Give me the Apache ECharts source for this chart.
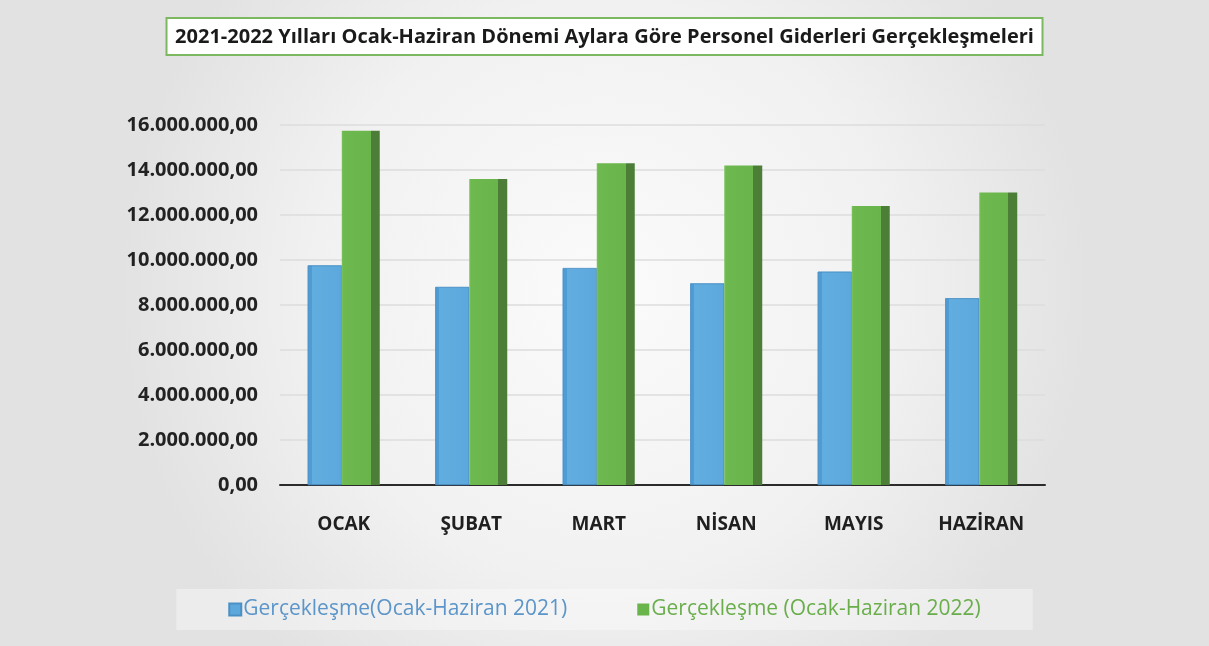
<!DOCTYPE html>
<html>
<head>
<meta charset="utf-8">
<title>Personel Giderleri</title>
<script src="https://cdn.jsdelivr.net/npm/echarts@6/dist/echarts.min.js"></script>
<style>
  html, body { margin: 0; padding: 0; }
  #chart { width: 1209px; height: 646px; }
</style>
</head>
<body>
<div id="chart"></div>
<script>
// aylar
const months = ['OCAK', 'ŞUBAT', 'MART', 'NİSAN', 'MAYIS', 'HAZİRAN'];
// 2021 gerçekleşme (TL)
const values2021 = [9760000, 8800000, 9640000, 8960000, 9480000, 8300000];
// 2022 gerçekleşme (TL)
const values2022 = [15750000, 13600000, 14300000, 14200000, 12400000, 13000000];
const seriesNames = ['Gerçekleşme(Ocak-Haziran 2021)', 'Gerçekleşme (Ocak-Haziran 2022)'];
const titleText = '2021-2022 Yılları Ocak-Haziran Dönemi Aylara Göre Personel Giderleri Gerçekleşmeleri';

const chart = echarts.init(document.getElementById('chart'));

// 16.000.000,00 biçimi
function trFormat(v) {
  const parts = Math.round(v).toString().replace(/\B(?=(\d{3})+(?!\d))/g, '.');
  return parts + ',00';
}

const blueFace = new echarts.graphic.LinearGradient(0, 0, 1, 0, [
  { offset: 0, color: '#4f9bd3' },
  { offset: 0.12, color: '#4f9bd3' },
  { offset: 0.12, color: '#62ade0' },
  { offset: 1, color: '#5ca8dc' }
]);
// yeşil sütun: ön yüz + koyu yan yüz
const greenFace = new echarts.graphic.LinearGradient(0, 0, 1, 0, [
  { offset: 0, color: '#7cc45c' },
  { offset: 0.05, color: '#6db84f' },
  { offset: 0.76, color: '#6ab44c' },
  { offset: 0.76, color: '#4c7e38' },
  { offset: 1, color: '#4c7e38' }
]);

const option = {
  backgroundColor: new echarts.graphic.RadialGradient(0.5, 0.45, 0.75, [
    { offset: 0, color: '#fbfbfb' },
    { offset: 0.6, color: '#f1f1f1' },
    { offset: 1, color: '#e2e2e2' }
  ]),
  title: {
    text: titleText,
    left: 'center',
    top: 18,
    backgroundColor: '#ffffff',
    borderColor: '#7cb860',
    borderWidth: 2,
    padding: [9, 9, 8, 9],
    textStyle: {
      fontFamily: 'Open Sans',
      fontWeight: 'bold',
      fontSize: 20,
      color: '#1a1a1a'
    }
  },
  legend: {
    bottom: 16,
    left: 'center',
    itemGap: 70,
    itemWidth: 12,
    itemHeight: 12,
    icon: 'rect',
    backgroundColor: 'rgba(255,255,255,0.35)',
    padding: [10, 52],
    data: [
      { name: seriesNames[0], itemStyle: { color: '#5ca8dc' }, textStyle: { color: '#5b95c9' } },
      { name: seriesNames[1], itemStyle: { color: '#6ab44c' }, textStyle: { color: '#6aae4c' } }
    ],
    textStyle: {
      fontFamily: 'Open Sans',
      fontSize: 21,
      padding: [0, 0, 0, -3]
    }
  },
  grid: {
    left: 280,
    right: 164,
    top: 125,
    bottom: 161
  },
  xAxis: {
    type: 'category',
    data: months,
    axisLine: { lineStyle: { color: '#2b2b2b', width: 2 } },
    axisTick: { show: false },
    axisLabel: {
      margin: 30,
      fontFamily: 'Open Sans',
      fontWeight: 'bold',
      fontSize: 19,
      color: '#1f1f1f'
    }
  },
  yAxis: {
    type: 'value',
    min: 0,
    max: 16000000,
    interval: 2000000,
    axisLine: { show: false },
    axisTick: { show: false },
    splitLine: { lineStyle: { color: '#dcdcdc', width: 1.5 } },
    axisLabel: {
      margin: 22,
      fontFamily: 'Open Sans',
      fontWeight: 'bold',
      fontSize: 20,
      color: '#222222',
      formatter: trFormat
    }
  },
  series: [
    {
      name: seriesNames[0],
      type: 'bar',
      data: values2021,
      barWidth: 34,
      barGap: '0%',
      itemStyle: { color: blueFace, borderColor: '#4a90c4', borderWidth: 0.6 }
    },
    {
      name: seriesNames[1],
      type: 'bar',
      data: values2022,
      barWidth: 38,
      itemStyle: { color: greenFace }
    }
  ]
};

chart.setOption(option);
</script>
</body>
</html>
